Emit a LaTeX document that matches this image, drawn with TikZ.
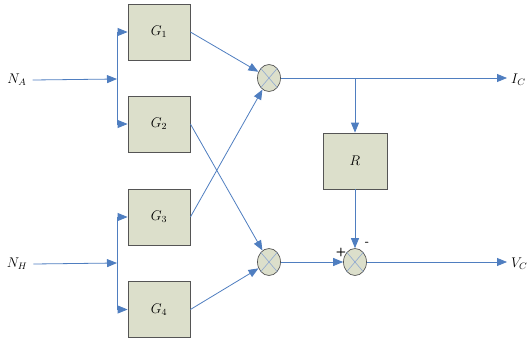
\documentclass[tikz,border=0pt]{standalone}
\usepackage{graphicx}
\usetikzlibrary{arrows.meta,shapes.geometric}
\definecolor{boxfill}{HTML}{DCDFCB}
\definecolor{boxline}{HTML}{555555}
\definecolor{wire}{HTML}{4F7EC0}
\definecolor{xline}{HTML}{8FA8D0}
\newcommand{\lbtxt}[1]{\scalebox{1.17}{$#1$}}
\tikzset{
  blk/.style={draw=boxline,fill=boxfill,line width=0.8pt,minimum width=62pt,minimum height=56pt,inner sep=0pt,font=\large},
  mult/.style={ellipse,draw=boxline,fill=boxfill,line width=0.7pt,minimum width=23pt,minimum height=27pt,inner sep=0pt},
  wr/.style={draw=wire,line width=0.8pt},
  arr/.style={wr,-{Triangle[length=10pt,width=8pt]}},
  lbl/.style={font=\large,inner sep=0pt}
}
\begin{document}
\begin{tikzpicture}[x=1pt,y=-1pt]
\useasboundingbox (0,0) rectangle (528,346);
% blocks
\node[blk] (G1) at (159,32) {\lbtxt{G_1}};
\node[blk] (G2) at (159,124) {\lbtxt{G_2}};
\node[blk] (G3) at (159,217) {\lbtxt{G_3}};
\node[blk] (G4) at (159,309.5) {\lbtxt{G_4}};
\node[blk,minimum width=64pt] (R) at (355,161) {\lbtxt{R}};
% multipliers
\node[mult] (M1) at (269,78) {};
\node[mult] (M2) at (269,262) {};
\node[mult] (M3) at (355,262) {};
\foreach \m in {M1,M2,M3}{
  \draw[xline,line width=0.6pt] (\m.north west) -- (\m.south east);
  \draw[xline,line width=0.6pt] (\m.north east) -- (\m.south west);
}
% inputs
\node[lbl] (NA) at (17,80) {\lbtxt{N_A}};
\node[lbl] (NH) at (17,264) {\lbtxt{N_H}};
\coordinate (bA) at (117,79);
\coordinate (bH) at (117,263);
\draw[arr] ([xshift=6pt]NA.east) -- (bA);
\draw[arr] ([xshift=6pt]NH.east) -- (bH);
\draw[arr] (bA) |- (G1.west);
\draw[arr] (bA) |- (G2.west);
\draw[arr] (bH) |- (G3.west);
\draw[arr] (bH) |- (G4.west);
% block outputs to multipliers
\draw[arr] (G1.east) -- (M1);
\draw[arr] (G3.east) -- (M1);
\draw[arr] (G2.east) -- (M2);
\draw[arr] (G4.east) -- (M2);
% outputs
\node[lbl,anchor=west] (IC) at (511,80) {\lbtxt{I_C}};
\node[lbl,anchor=west] (VC) at (511,264) {\lbtxt{V_C}};
\coordinate (ICe) at (507,78);
\coordinate (VCe) at (507,262);
\coordinate (jn) at (355,78);
\draw[arr] (M1.east) -- (ICe);
\draw[arr] (jn) -- (R.north);
\draw[arr] (R.south) -- (M3.north);
\draw[arr] (M2.east) -- (M3.west);
\draw[arr] (M3.east) -- (VCe);
\node[font=\sffamily\bfseries\large,inner sep=0pt] (plus) at (341,252) {+};
\node[font=\sffamily\bfseries\large,inner sep=0pt] (minus) at (367,244) {-};
\end{tikzpicture}
\end{document}
